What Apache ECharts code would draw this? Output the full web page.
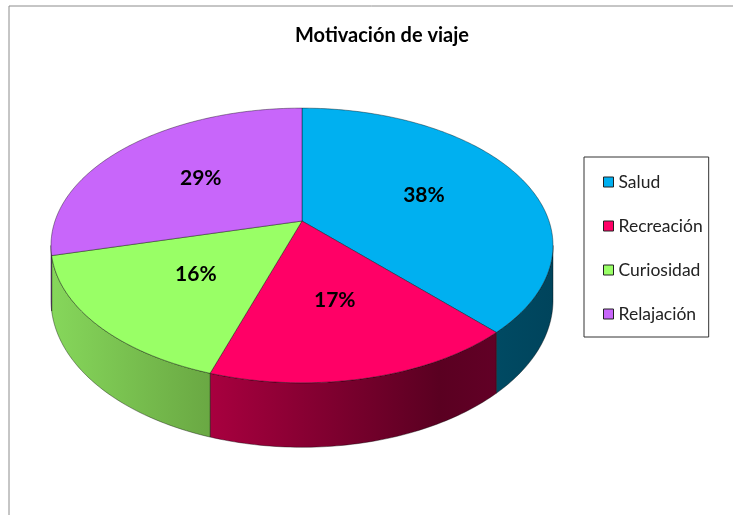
<!DOCTYPE html>
<html>
<head>
<meta charset="utf-8">
<title>Motivación de viaje</title>
<script src="https://cdn.jsdelivr.net/npm/echarts@6/dist/echarts.min.js"></script>
<style>
  html, body { margin: 0; padding: 0; background: #fff; }
  #chart { width: 733px; height: 515px; }
</style>
</head>
<body>
<div id="chart"></div>
<script>
// 数据
const categories = ['Salud', 'Recreación', 'Curiosidad', 'Relajación'];
const values = [38, 17, 16, 29];

// 顶面颜色 / 侧面渐变
const topColors = ['#00b0f0', '#ff0066', '#99ff66', '#c866fa'];
const sideStops = [
  [[0, '#004a63'], [1, '#00445c']],
  [[0, '#a8003f'], [0.8, '#5a0021'], [1, '#620026']],
  [[0, '#86d75b'], [1, '#6aa843']],
  [[0, '#8a44ad'], [1, '#6a3288']]
];

// 3D 投影参数（透视饼图）
const CX = 302, CY = 221, RX = 247, RY = 133, PERSP = 0.178, DEPTH = 53;
const LABEL_R = 0.55;
const total = values.reduce((s, v) => s + v, 0);
const VIS0 = Math.acos(-PERSP);           // 侧面可见范围
const VIS1 = Math.PI * 2 - VIS0;

// 角度：从12点方向顺时针
const startAngles = [];
let acc = 0;
values.forEach(v => { startAngles.push(acc / total * Math.PI * 2); acc += v; });

const project = (phi, r, h) => {
  const X = r * Math.sin(phi), Z = -r * Math.cos(phi);
  const s = 1 / (1 - PERSP * Z);
  return [CX + RX * X * s, CY + (RY * Z + h) * s];
};

const arcPoints = (a0, a1, h) => {
  const n = Math.max(2, Math.ceil((a1 - a0) / (Math.PI / 180)));
  const pts = [];
  for (let i = 0; i <= n; i++) pts.push(project(a0 + (a1 - a0) * i / n, 1, h));
  return pts;
};

const renderItem = (params, api) => {
  const i = params.dataIndex;
  const a0 = startAngles[i];
  const a1 = a0 + values[i] / total * Math.PI * 2;
  const children = [];

  // 侧面
  const w0 = Math.max(a0, VIS0), w1 = Math.min(a1, VIS1);
  if (w1 > w0) {
    const pts = arcPoints(w0, w1, 0).concat(arcPoints(w0, w1, DEPTH).reverse());
    children.push({
      type: 'polygon',
      z2: 1,
      shape: { points: pts },
      style: {
        fill: new echarts.graphic.LinearGradient(0, 0, 1, 0,
          sideStops[i].map(s => ({ offset: s[0], color: s[1] }))),
        stroke: 'rgba(0,0,0,0.55)',
        lineWidth: 0.7
      }
    });
  }

  // 顶面
  children.push({
    type: 'polygon',
    z2: 5,
    shape: { points: [[CX, CY]].concat(arcPoints(a0, a1, 0)) },
    style: { fill: topColors[i], stroke: 'rgba(0,0,0,0.55)', lineWidth: 0.7 }
  });

  // 百分比标签
  const lp = project((a0 + a1) / 2, LABEL_R, 0);
  children.push({
    type: 'text',
    z2: 10,
    x: lp[0],
    y: lp[1],
    style: {
      text: Math.round(values[i] / total * 100) + '%',
      font: 'bold 21px Lato',
      fill: '#000',
      align: 'center',
      verticalAlign: 'middle'
    }
  });

  return { type: 'group', children: children };
};

const chart = echarts.init(document.getElementById('chart'));
chart.setOption({
  animation: false,
  backgroundColor: '#fff',
  title: {
    text: 'Motivación de viaje',
    left: 290,
    top: 21,
    textStyle: { fontFamily: 'Lato', fontSize: 20, fontWeight: 'bold', color: '#000' }
  },
  legend: {
    orient: 'vertical',
    left: 584,
    top: 157,
    icon: 'rect',
    itemWidth: 10,
    itemHeight: 10,
    itemGap: 24,
    padding: [15, 6, 13, 19],
    borderColor: '#333',
    borderWidth: 1,
    selectedMode: false,
    itemStyle: { borderColor: '#222', borderWidth: 1 },
    textStyle: { fontFamily: 'Lato', fontSize: 17.5, lineHeight: 20, color: '#222' },
    data: categories
  },
  graphic: [{
    type: 'rect',
    shape: { x: 9, y: 6, width: 800, height: 600 },
    style: { fill: 'none', stroke: '#8c8c8c', lineWidth: 1 },
    silent: true
  }],
  series: [
    {
      // 仅用于图例
      type: 'pie',
      radius: [0, 0],
      silent: true,
      label: { show: false },
      labelLine: { show: false },
      data: categories.map((c, i) => ({ name: c, value: values[i], itemStyle: { color: topColors[i] } }))
    },
    {
      type: 'custom',
      coordinateSystem: 'none',
      silent: true,
      renderItem: renderItem,
      data: values
    }
  ]
});
</script>
</body>
</html>
